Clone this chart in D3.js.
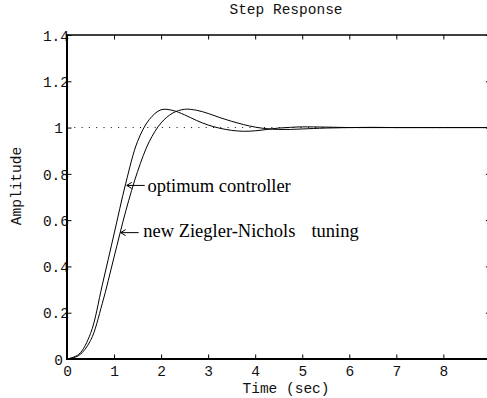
<!DOCTYPE html>
<html>
<head>
<meta charset="utf-8">
<script src="https://cdn.jsdelivr.net/npm/d3@7"></script>
<style>
  html, body { margin: 0; padding: 0; background: #fff; }
  svg { display: block; }
  .mono { font-family: "Liberation Mono", "Courier New", monospace; fill: #111; }
  .serif { font-family: "Liberation Serif", "Times New Roman", serif; fill: #000; }
</style>
</head>
<body>
<svg id="chart" width="487" height="398"></svg>
<script>
// Time samples (sec)
const time = [0, 0.25, 0.5, 0.75, 1, 1.25, 1.5, 1.75, 2, 2.25, 2.5, 2.75, 3, 3.25, 3.5,
              3.75, 4, 4.25, 4.5, 4.75, 5, 5.5, 6, 6.5, 7, 7.5, 8, 8.5, 9];
// Step response with the optimum controller
const optimum = [0, 0.02, 0.11, 0.32, 0.54, 0.76, 0.94, 1.035, 1.077, 1.074, 1.055, 1.031, 1.011,
                 0.997, 0.988, 0.984, 0.986, 0.992, 0.998, 1.001, 1.003, 1.002, 1.0, 1.0, 1.0,
                 1.0, 1.0, 1.0, 1.0];
// Step response with the new Ziegler-Nichols tuning
const zieglerNichols = [0, 0.015, 0.08, 0.24, 0.44, 0.64, 0.81, 0.94, 1.02, 1.063, 1.079, 1.075,
                        1.061, 1.043, 1.027, 1.013, 1.002, 0.995, 0.992, 0.992, 0.994, 0.998, 1.0,
                        1.001, 1.0, 1.0, 1.0, 1.0, 1.0];
const xTicks = [0, 1, 2, 3, 4, 5, 6, 7, 8, 9];
const xTickLabels = ["0", "1", "2", "3", "4", "5", "6", "7", "8", ""];
const yTicks = [0, 0.2, 0.4, 0.6, 0.8, 1, 1.2, 1.4];
const yTickLabels = ["0", "0.2", "0.4", "0.6", "0.8", "1", "1.2", "1.4"];
const setpoint = 1;

const svg = d3.select("#chart");
const x = d3.scaleLinear().domain([0, 9]).range([67, 490.4]);
const y = d3.scaleLinear().domain([0, 1.4]).range([359, 35]);
const [x0, x1] = x.range();
const [yb, yt] = y.range();

// Title and axis labels
svg.append("text").attr("class", "mono").attr("x", 286).attr("y", 14)
  .attr("text-anchor", "middle").style("font-size", "14.5px").text("Step Response");
svg.append("text").attr("class", "mono").attr("x", 286).attr("y", 393)
  .attr("text-anchor", "middle").style("font-size", "14.5px").text("Time (sec)");
svg.append("text").attr("class", "mono")
  .attr("transform", "translate(21,186) rotate(-90)")
  .attr("text-anchor", "middle").style("font-size", "14.5px").text("Amplitude");

// Reference level
svg.append("line")
  .attr("x1", x0).attr("x2", x1).attr("y1", y(setpoint)).attr("y2", y(setpoint))
  .attr("stroke", "#000").attr("stroke-width", 1).attr("stroke-dasharray", "1,6.3");

// Response curves
const line = d3.line().x((d, i) => x(time[i])).y(d => y(d)).curve(d3.curveCatmullRom.alpha(0.5));
[optimum, zieglerNichols].forEach(series => {
  svg.append("path").attr("d", line(series))
    .attr("fill", "none").attr("stroke", "#000").attr("stroke-width", 1);
});

// Box with inward ticks on all four sides
const tickLen = 4.5;
const axisB = d3.axisBottom(x).tickValues(xTicks).tickSizeInner(-tickLen).tickSizeOuter(0)
  .tickFormat((d, i) => xTickLabels[i]);
const gb = svg.append("g").attr("transform", `translate(0,${yb})`).call(axisB);
gb.select(".domain").remove();
gb.selectAll("text").attr("class", "mono").style("font-size", "14.5px")
  .attr("fill", null).attr("y", 17).attr("dy", 0);

const axisT = d3.axisTop(x).tickValues(xTicks).tickSizeInner(-tickLen).tickSizeOuter(0).tickFormat("");
const gt = svg.append("g").attr("transform", `translate(0,${yt})`).call(axisT);
gt.select(".domain").remove();

const axisL = d3.axisLeft(y).tickValues(yTicks).tickSizeInner(-tickLen).tickSizeOuter(0)
  .tickPadding(0).tickFormat((d, i) => yTickLabels[i]);
const gl = svg.append("g").attr("transform", `translate(${x0},0)`).call(axisL);
gl.select(".domain").remove();
gl.selectAll("text").attr("class", "mono").style("font-size", "14.5px").attr("fill", null)
  .attr("x", (d, i) => yTickLabels[i].includes(".") ? 2 : -4).attr("dy", "0.36em");

const axisR = d3.axisRight(y).tickValues(yTicks).tickSizeInner(-tickLen).tickSizeOuter(0).tickFormat("");
const gr = svg.append("g").attr("transform", `translate(${x1},0)`).call(axisR);
gr.select(".domain").remove();

svg.selectAll(".tick line").attr("stroke", "#000").attr("stroke-width", 1);

// Frame lines
svg.append("line").attr("x1", x0).attr("x2", x1).attr("y1", yt).attr("y2", yt)
  .attr("stroke", "#000").attr("stroke-width", 1.6);
svg.append("line").attr("x1", x0).attr("x2", x1).attr("y1", yb).attr("y2", yb)
  .attr("stroke", "#000").attr("stroke-width", 2);
svg.append("line").attr("x1", x0).attr("x2", x0).attr("y1", yt - 1).attr("y2", yb + 1)
  .attr("stroke", "#000").attr("stroke-width", 2);
svg.append("line").attr("x1", x1).attr("x2", x1).attr("y1", yt).attr("y2", yb)
  .attr("stroke", "#000").attr("stroke-width", 1.6);

// Curve annotations: arrow tip on the curve, text to its right
const notes = [
  { t: 1.27, v: 0.75, tx: 1.71, tv: 0.722, words: ["optimum controller"] },
  { t: 1.14, v: 0.546, tx: 1.62, tv: 0.526, words: ["new Ziegler-Nichols", "tuning"] }
];
notes.forEach(n => {
  const px = x(n.t), py = y(n.v);
  const g = svg.append("g").attr("stroke", "#000").attr("stroke-width", 1).attr("fill", "none");
  g.append("line").attr("x1", px).attr("x2", px + 18).attr("y1", py).attr("y2", py);
  g.append("path").attr("d", `M${px + 5},${py - 3}L${px},${py}L${px + 5},${py + 3}`);
  const txt = svg.append("text").attr("class", "serif").attr("x", x(n.tx)).attr("y", y(n.tv))
    .style("font-size", "18.5px");
  n.words.forEach((w, i) => txt.append("tspan").attr("dx", i ? 16 : 0).text(w));
});
</script>
</body>
</html>
